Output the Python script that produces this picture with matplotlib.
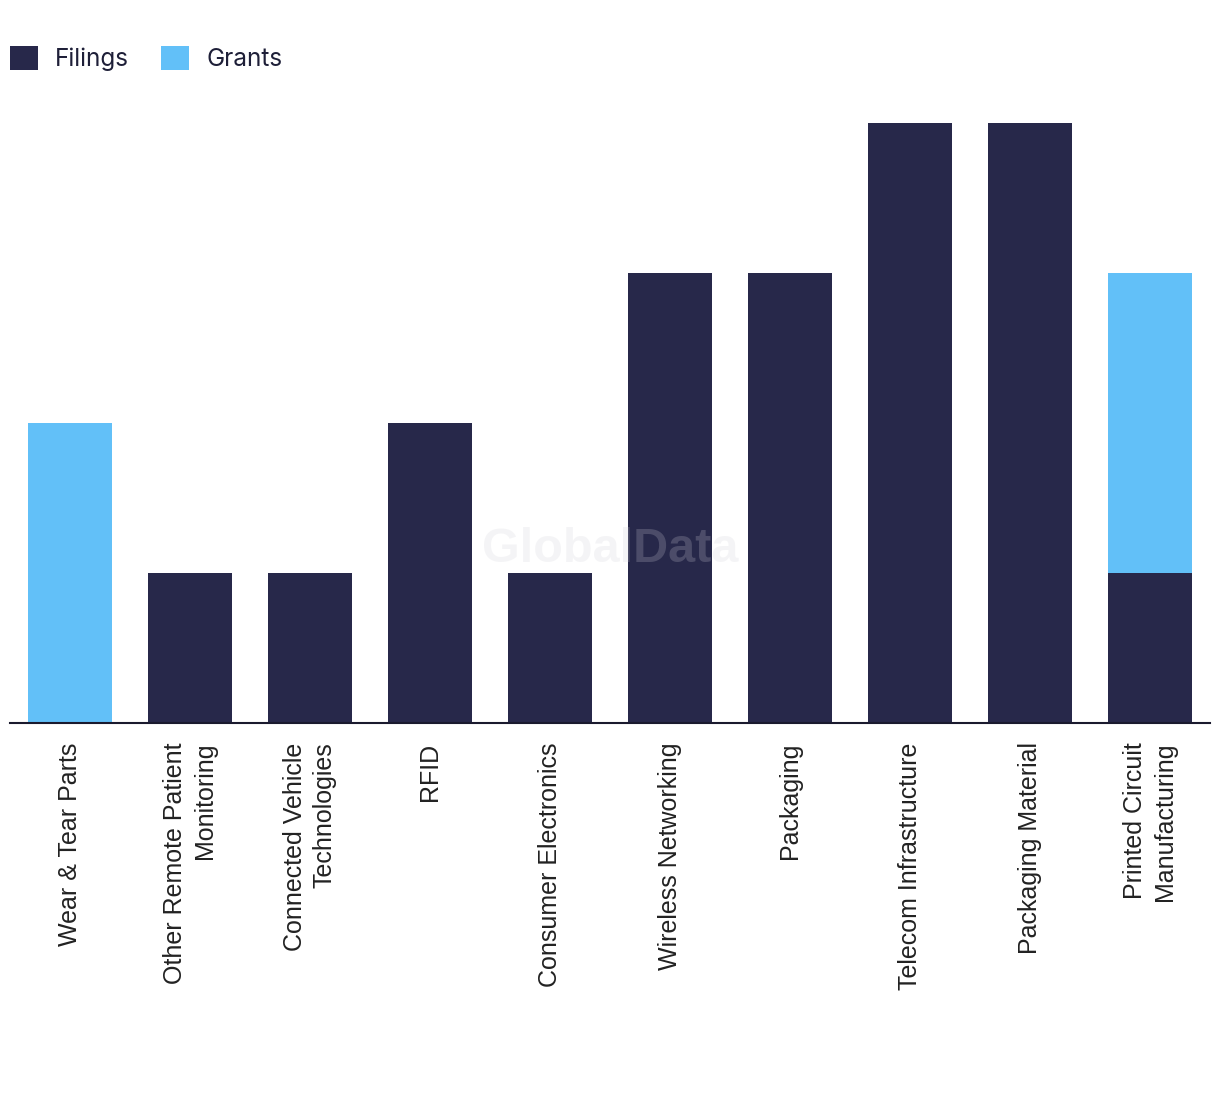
import matplotlib.pyplot as plt
from matplotlib.patches import Patch
import numpy as np

# data
categories = ['Wear & Tear Parts', 'Other Remote Patient\nMonitoring',
              'Connected Vehicle\nTechnologies', 'RFID', 'Consumer Electronics',
              'Wireless Networking', 'Packaging', 'Telecom Infrastructure',
              'Packaging Material', 'Printed Circuit\nManufacturing']
filings = [0, 1, 1, 2, 1, 3, 3, 4, 4, 1]
grants = [2, 0, 0, 0, 0, 0, 0, 0, 0, 2]

navy = '#27284a'
blue = '#62c0f8'

W, H = 1220, 1094
fig = plt.figure(figsize=(W / 100, H / 100), dpi=100)
ax = fig.add_axes([10 / W, (H - 723) / H, 1200 / W, 630 / H])

x = np.arange(len(categories))
ax.bar(x, filings, width=0.7, color=navy, zorder=2)
ax.bar(x, grants, width=0.7, bottom=filings, color=blue, zorder=2)

ax.set_xlim(-0.5, len(categories) - 0.5)
ax.set_ylim(0, 4.2)
ax.set_yticks([])
for s in ['top', 'left', 'right']:
    ax.spines[s].set_visible(False)
ax.spines['bottom'].set_color('#1a1a2e')
ax.spines['bottom'].set_linewidth(1.5)
ax.spines['bottom'].set_zorder(3)

ax.set_xticks(x)
ax.set_xticklabels(categories, rotation=90, ha='center', va='top',
                   fontsize=18, family='Liberation Sans', color='#222222',
                   multialignment='right', linespacing=1.3)
ax.tick_params(axis='x', length=0, pad=14)

# watermark
fig.text(610 / W, 1 - 549 / H, 'GlobalData', ha='center', va='center',
         fontsize=35, fontweight='bold', family='Liberation Sans',
         color='#d0d0d8', alpha=0.22, zorder=10)

handles = [Patch(facecolor=navy, label='Filings'), Patch(facecolor=blue, label='Grants')]
fig.legend(handles=handles, loc='upper left', bbox_to_anchor=(10 / W, 1 - 46 / H),
           ncol=2, frameon=False, prop={'family': 'Inter', 'size': 17.5},
           handlelength=1.15, handleheight=1.15, handletextpad=0.7,
           columnspacing=1.32, borderpad=0, borderaxespad=0, labelcolor='#1e1f38')

fig.savefig('out.png', dpi=100)
